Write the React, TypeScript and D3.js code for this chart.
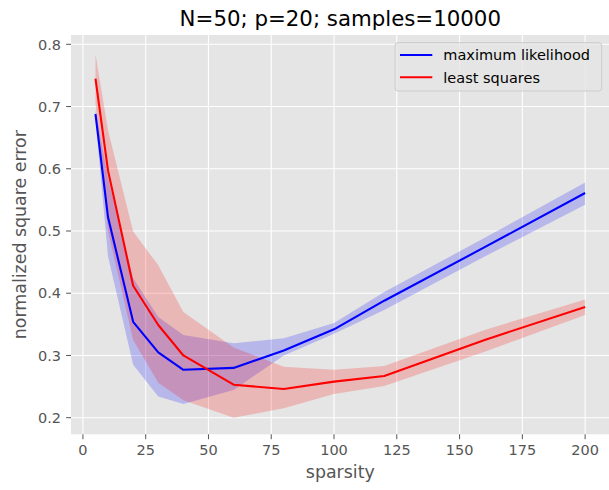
import React from "react";
import * as d3 from "d3";

const sparsity = [5, 10, 20, 30, 40, 60, 80, 100, 120, 160, 200];
const mlMean = [0.688, 0.522, 0.354, 0.305, 0.277, 0.28, 0.308, 0.342, 0.388, 0.474, 0.561];
const mlLower = [0.68, 0.459, 0.285, 0.234, 0.222, 0.2445, 0.3, 0.335, 0.373, 0.459, 0.542];
const mlUpper = [0.695, 0.585, 0.424, 0.362, 0.333, 0.3195, 0.3275, 0.352, 0.402, 0.489, 0.578];
const lsMean = [0.745, 0.597, 0.412, 0.349, 0.3, 0.253, 0.246, 0.258, 0.267, 0.325, 0.378];
const lsLower = [0.705, 0.5, 0.325, 0.256, 0.228, 0.2, 0.215, 0.238, 0.251, 0.306, 0.365];
const lsUpper = [0.784, 0.662, 0.499, 0.445, 0.37, 0.313, 0.282, 0.277, 0.283, 0.341, 0.39];
const xTicks = [0, 25, 50, 75, 100, 125, 150, 175, 200];
const yTicks = [0.2, 0.3, 0.4, 0.5, 0.6, 0.7, 0.8];
const seriesNames = ["maximum likelihood", "least squares"];
const seriesColors = ["#0000ff", "#ff0000"];
const title = "N=50; p=20; samples=10000";
const xLabel = "sparsity";
const yLabel = "normalized square error";

const W = 609;
const H = 490;
const left = 71;
const right = 609.6;
const top = 35;
const bottom = 434.3;
const FONT = "DejaVu Sans, sans-serif";

export default function App() {
  const x = d3.scaleLinear().domain([-4.75, 209.75]).range([left, right]);
  const y = d3.scaleLinear().domain([0.2, 0.8]).range([417.7, 44.3]);

  const idx = sparsity.map((_, i) => i);
  const area = (lo: number[], hi: number[]) =>
    d3
      .area<number>()
      .x((i) => x(sparsity[i]))
      .y0((i) => y(lo[i]))
      .y1((i) => y(hi[i]))(idx) || "";
  const line = (v: number[]) =>
    d3
      .line<number>()
      .x((i) => x(sparsity[i]))
      .y((i) => y(v[i]))(idx) || "";

  const series = [
    { mean: mlMean, lo: mlLower, hi: mlUpper },
    { mean: lsMean, lo: lsLower, hi: lsUpper },
  ];

  return (
    <svg
      width={W}
      height={H}
      style={{ position: "absolute", left: 0, top: 0, background: "#fff" }}
      fontFamily={FONT}
    >
      <defs>
        <clipPath id="plotclip">
          <rect x={left} y={top} width={right - left} height={bottom - top} />
        </clipPath>
      </defs>
      <rect x={left} y={top} width={right - left} height={bottom - top} fill="#e5e5e5" />
      <g clipPath="url(#plotclip)">
        {xTicks.map((t) => (
          <line key={"gx" + t} x1={x(t)} x2={x(t)} y1={top} y2={bottom} stroke="#fff" strokeWidth={1.1} />
        ))}
        {yTicks.map((t) => (
          <line key={"gy" + t} x1={left} x2={right} y1={y(t)} y2={y(t)} stroke="#fff" strokeWidth={1.1} />
        ))}
        {series.map((s, k) => (
          <path key={"a" + k} d={area(s.lo, s.hi)} fill={seriesColors[k]} fillOpacity={0.2} stroke="none" />
        ))}
        {series.map((s, k) => (
          <path
            key={"l" + k}
            d={line(s.mean)}
            fill="none"
            stroke={seriesColors[k]}
            strokeWidth={2.1}
            strokeLinejoin="round"
          />
        ))}
      </g>
      {xTicks.map((t) => (
        <g key={"tx" + t}>
          <line x1={x(t)} x2={x(t)} y1={bottom} y2={bottom + 4.9} stroke="#555" strokeWidth={1} />
          <text x={x(t)} y={bottom + 20.5} textAnchor="middle" fontSize={14.5} fill="#555">
            {t}
          </text>
        </g>
      ))}
      {yTicks.map((t) => (
        <g key={"ty" + t}>
          <line x1={left - 4.9} x2={left} y1={y(t)} y2={y(t)} stroke="#555" strokeWidth={1} />
          <text x={left - 10} y={y(t) + 5.2} textAnchor="end" fontSize={14.5} fill="#555">
            {t.toFixed(1)}
          </text>
        </g>
      ))}
      <text x={(left + right) / 2} y={478} textAnchor="middle" fontSize={17.4} fill="#555">
        {xLabel}
      </text>
      <text
        transform={`translate(26, ${(top + bottom) / 2}) rotate(-90)`}
        textAnchor="middle"
        fontSize={17.4}
        fill="#555"
      >
        {yLabel}
      </text>
      <text x={(left + right) / 2} y={26} textAnchor="middle" fontSize={21.3} fill="#000">
        {title}
      </text>
      <g>
        <rect x={395} y={42.7} width={206.7} height={48.3} rx={3} fill="#e5e5e5" fillOpacity={0.8} stroke="#cccccc" strokeWidth={1} />
        {seriesNames.map((n, k) => (
          <g key={"lg" + k}>
            <line x1={400} x2={432.3} y1={55 + k * 22.3} y2={55 + k * 22.3} stroke={seriesColors[k]} strokeWidth={2.1} />
            <text x={443.3} y={55 + k * 22.3 + 5.2} fontSize={14.5} fill="#000">
              {n}
            </text>
          </g>
        ))}
      </g>
    </svg>
  );
}
